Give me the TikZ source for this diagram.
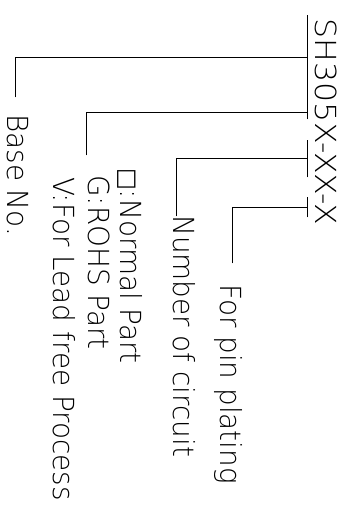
\documentclass[tikz,border=0pt]{standalone}
\usepackage{fontspec}
\setmainfont{DejaVuSans-ExtraLight.ttf}
\newfontfamily\boxfont{DejaVu Sans}
\usetikzlibrary{positioning}
\tikzstyle{tag} = [rotate=-90, xscale=0.96, anchor=base west, inner sep=0pt, font=\fontsize{29}{31}\selectfont]
\tikzstyle{code} = [tag, xscale=1.135]
\tikzstyle{lead} = [line width=0.8pt, line cap=rect]

\begin{document}
\begin{tikzpicture}[x=1pt, y=-1pt]
    \useasboundingbox (0,0) rectangle (349,509);
    \node(code)[code] at (315,18) {SH305X-XX-X};
    %
    \node(base)[tag] at (7,114) {Base No.};
    \node(normal)[tag] at (120,168) {{\boxfont\fontsize{24}{26}\selectfont □}:Normal Part};
    \node(rohs)[tag] at (88,175) {G:ROHS Part};
    \node(lead)[tag] at (53,177) {V:For Lead free Process};
    \node(circuit)[tag] at (173,215) {Number of circuit};
    \node(plating)[tag] at (220,284) {For pin plating};
    %
    \coordinate(t1a) at (307,15); \coordinate(t1b) at (307,101);
    \coordinate(t2a) at (307,101); \coordinate(t2b) at (307,119);
    \coordinate(t3a) at (307,140); \coordinate(t3b) at (307,177);
    \coordinate(t4a) at (307,197); \coordinate(t4b) at (307,217);
    \coordinate(b1) at (307,57);
    \coordinate(b2) at (307,112);
    \coordinate(b3) at (307,158);
    \coordinate(b4) at (307,207);
    \coordinate(e1) at (15,97);
    \coordinate(e2) at (86,155);
    \coordinate(e3) at (176,216);
    \coordinate(e4) at (232,263);
    %
    \draw[lead](t1a)--(t1b);
    \draw[lead](t2a)--(t2b);
    \draw[lead](t3a)--(t3b);
    \draw[lead](t4a)--(t4b);
    %
    \draw[lead](b1) -| (e1);
    \draw[lead](b2) -| (e2);
    \draw[lead](b3) -| (e3);
    \draw[lead](b4) -| (e4);
\end{tikzpicture}
\end{document}
